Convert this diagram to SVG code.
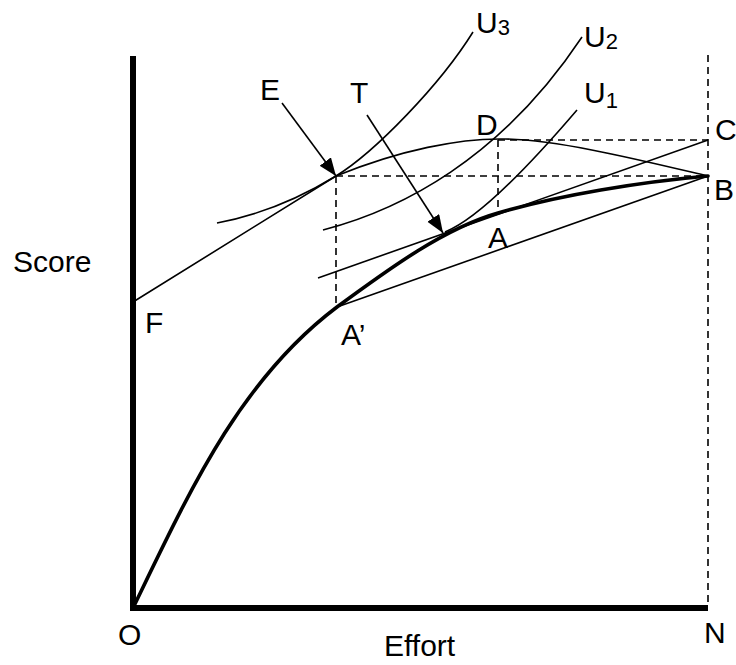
<svg xmlns="http://www.w3.org/2000/svg" width="736" height="665" viewBox="0 0 736 665">
<style>
.thin{fill:none;stroke:#000;stroke-width:1.6}
.thick{fill:none;stroke:#000;stroke-width:3.6;stroke-linecap:round}
.axis{fill:none;stroke:#000;stroke-width:6}
.dash{fill:none;stroke:#000;stroke-width:1.6;stroke-dasharray:7,5}
.lbl{font-family:"Liberation Sans",Arial,sans-serif;font-size:30px;fill:#000}
.sub{font-size:22px}
</style>
<defs>
<marker id="ah" markerUnits="userSpaceOnUse" markerWidth="20" markerHeight="16" refX="18" refY="7" orient="auto">
<path d="M0,0 L18,7 L0,14 Z" fill="#000"/>
</marker>
</defs>
<rect width="736" height="665" fill="#fff"/>
<g id="axes">
<path class="axis" d="M133,56 V608 H708"/>
<path class="dash" d="M708,55 V606"/>
</g>
<g id="guides">
<path class="dash" d="M336,176 H708"/>
<path class="dash" d="M336,176 V307"/>
<path class="dash" d="M498,140 H708"/>
<path class="dash" d="M498,140 V212"/>
</g>
<g id="curves">
<path id="production" class="thick" d="M133,608 C190,490 240,380 337,307 C390,268 445,228 498,213 C560,195 640,182 708,176"/>
<path id="FEDB" class="thin" d="M133,302 L336,176 C400,150 460,138 505,139 C560,140 640,160 708,176"/>
<path id="chordAB" class="thin" d="M337,307 L708,176"/>
<path id="lineC" class="thin" d="M318,278 L708,140"/>
<path id="U3" class="thin" d="M217,223 C260,215 300,198 336,176 C375,152 440,85 473,32"/>
<path id="U2" class="thin" d="M323,230 C400,210 500,160 582,37"/>
<path id="U1" class="thin" d="M445,232 C480,218 530,165 577,110"/>
</g>
<g id="connectors">
<path class="thin" d="M282,103 L336,176" marker-end="url(#ah)"/>
<path class="thin" d="M367,115 L443,233" marker-end="url(#ah)"/>
</g>
<g id="labels" class="lbl">
<text id="lblScore" x="13" y="272">Score</text>
<text id="lblEffort" x="384" y="656">Effort</text>
<text id="lblO" x="118" y="645">O</text>
<text id="lblN" x="704" y="643">N</text>
<text id="lblF" x="145" y="333">F</text>
<text id="lblA2" x="341" y="345">A’</text>
<text id="lblA" x="488" y="248">A</text>
<text id="lblB" x="714" y="200">B</text>
<text id="lblC" x="715" y="140">C</text>
<text id="lblD" x="476" y="135">D</text>
<text id="lblE" x="260" y="100">E</text>
<text id="lblT" x="350" y="103">T</text>
<text id="lblU3" x="476" y="33">U<tspan class="sub" dy="2">3</tspan></text>
<text id="lblU2" x="584" y="47">U<tspan class="sub" dy="2">2</tspan></text>
<text id="lblU1" x="584" y="103">U<tspan class="sub" dy="5">1</tspan></text>
</g>
</svg>
